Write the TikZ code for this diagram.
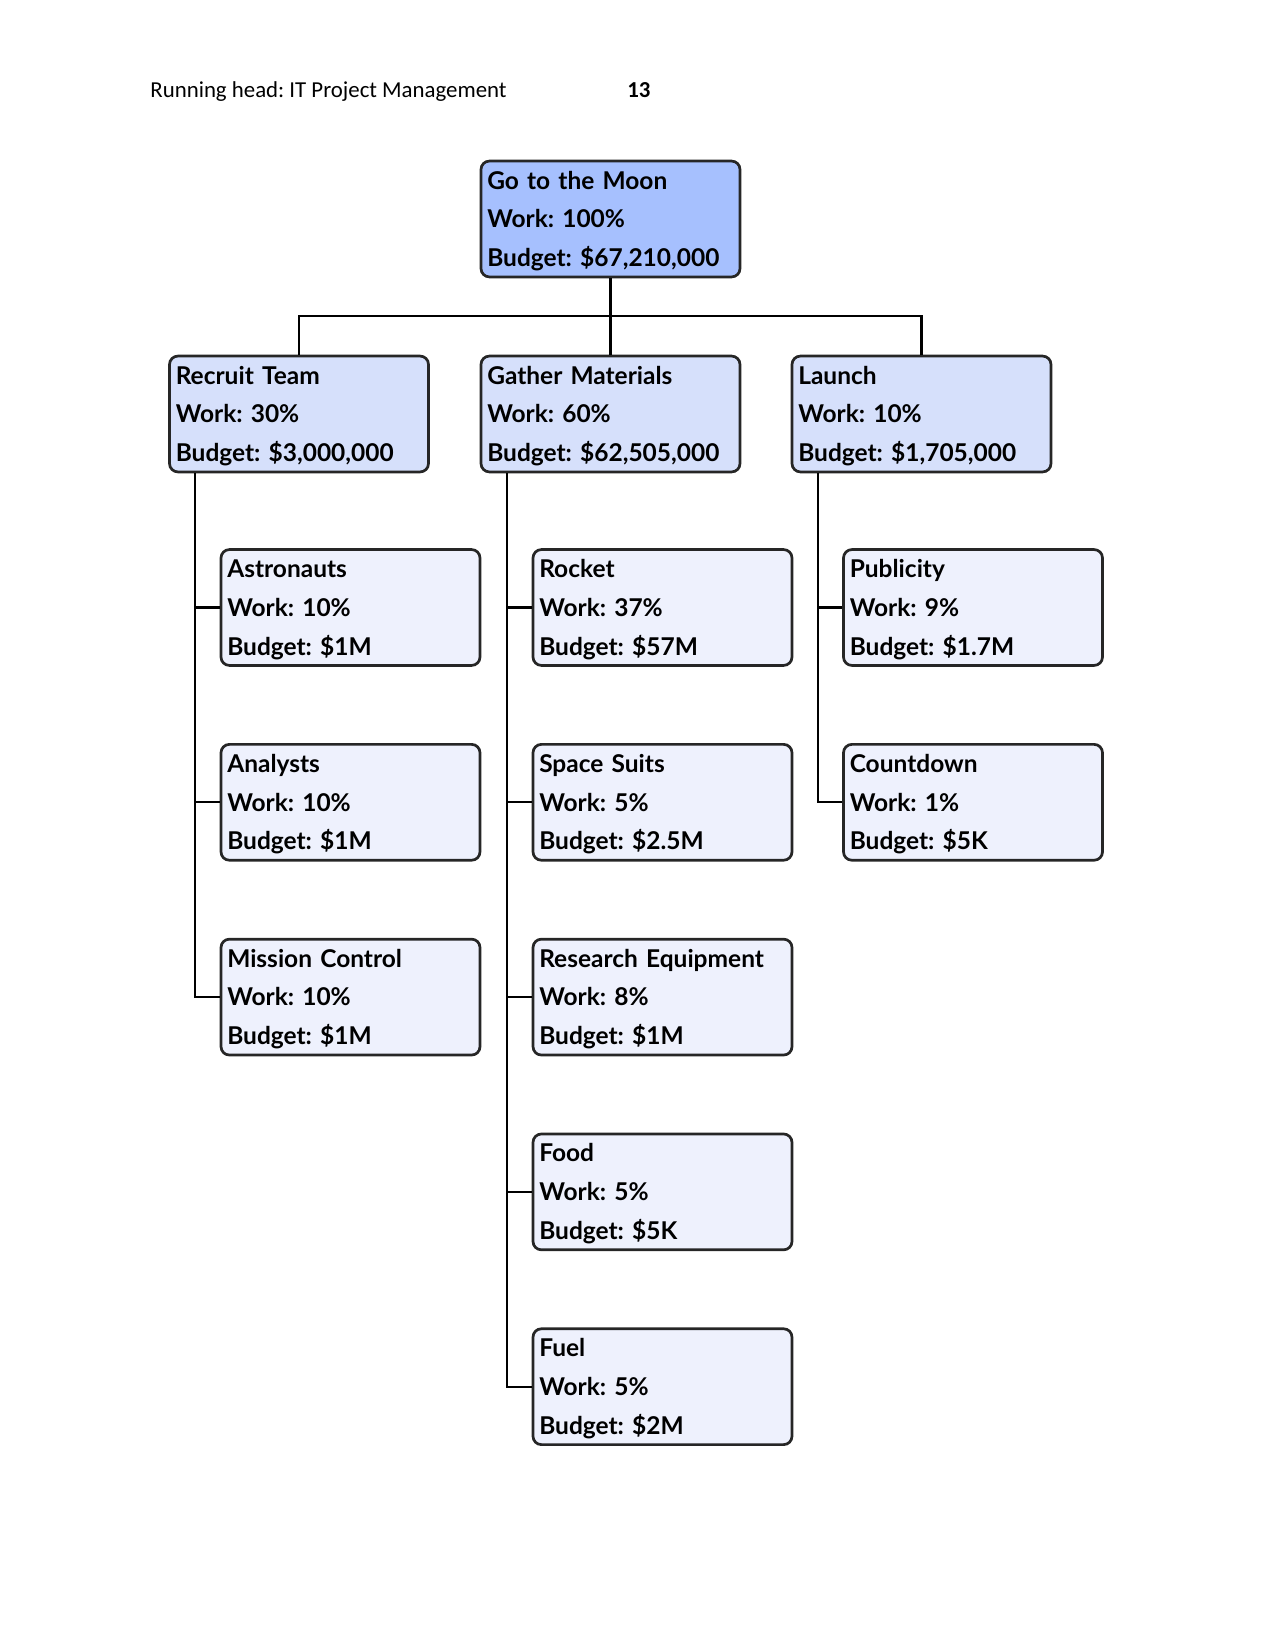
\documentclass[tikz,border=0pt]{standalone}
\usepackage{fontspec}
\setmainfont{Carlito}
\newfontfamily\boxfont{Lato}
\usepackage{xcolor}
\usetikzlibrary{positioning}
\frenchspacing
\definecolor{rootblue}{RGB}{166,192,254}
\definecolor{phaseblue}{RGB}{214,224,251}
\definecolor{taskblue}{RGB}{238,241,253}
\tikzset{
  wbs/.style={rectangle, draw=black!85, line width=1.3bp, rounded corners=4bp,
              minimum width=124.3bp, minimum height=55.6bp, text width=118.3bp,
              inner xsep=3bp, inner ysep=0pt, align=left,
              execute at begin node={\rule{0pt}{10.6bp}},
              font=\boxfont\bfseries\fontsize{11.8}{18.7}\selectfont},
  goal/.style={wbs, fill=rootblue},
  phase/.style={wbs, fill=phaseblue},
  task/.style={wbs, fill=taskblue},
  link/.style={line width=1bp, black},
  hdr/.style={inner sep=0pt, anchor=base west, font=\fontsize{11}{13}\selectfont}
}

\begin{document}
\begin{tikzpicture}[x=0.48bp, y=-0.48bp]
  \useasboundingbox (0,0) rectangle (1275,1651);
  \node[hdr] (head) at (150,97) {Running head: IT Project Management};
  \node[hdr, font=\fontsize{11}{13}\selectfont\bfseries] (page) at (627,97) {13};

  % top level
  \node[goal] (moon) at (610.5,219) {Go to the Moon\\Work: 100\%\\Budget: \$67,210,000};

  % phases
  \node[phase] (recruit) at (299,414) {Recruit Team\\Work: 30\%\\Budget: \$3,000,000};
  \node[phase] (gather) at (610.5,414) {Gather Materials\\Work: 60\%\\Budget: \$62,505,000};
  \node[phase] (launch) at (921.5,414) {Launch\\Work: 10\%\\Budget: \$1,705,000};
  \coordinate (bus) at (610.5,316);
  \draw[link] (moon.south) -- (gather.north);
  \draw[link] (recruit.north) |- (bus) -| (launch.north);

  % recruit team
  \node[task] (astro) at (350.5,607.5) {Astronauts\\Work: 10\%\\Budget: \$1M};
  \node[task] (analyst) at (350.5,802.3) {Analysts\\Work: 10\%\\Budget: \$1M};
  \node[task] (mission) at (350.5,997.1) {Mission Control\\Work: 10\%\\Budget: \$1M};
  \draw[link] ([xshift=13bp]recruit.south west) |- (astro.west);
  \draw[link] ([xshift=13bp]recruit.south west) |- (analyst.west);
  \draw[link] ([xshift=13bp]recruit.south west) |- (mission.west);

  % gather materials
  \node[task] (rocket) at (662.5,607.5) {Rocket\\Work: 37\%\\Budget: \$57M};
  \node[task] (suits) at (662.5,802.3) {Space Suits\\Work: 5\%\\Budget: \$2.5M};
  \node[task] (research) at (662.5,997.1) {Research Equipment\\Work: 8\%\\Budget: \$1M};
  \node[task] (food) at (662.5,1191.9) {Food\\Work: 5\%\\Budget: \$5K};
  \node[task] (fuel) at (662.5,1386.7) {Fuel\\Work: 5\%\\Budget: \$2M};
  \draw[link] ([xshift=13bp]gather.south west) |- (rocket.west);
  \draw[link] ([xshift=13bp]gather.south west) |- (suits.west);
  \draw[link] ([xshift=13bp]gather.south west) |- (research.west);
  \draw[link] ([xshift=13bp]gather.south west) |- (food.west);
  \draw[link] ([xshift=13bp]gather.south west) |- (fuel.west);

  % launch
  \node[task] (publicity) at (973,607.5) {Publicity\\Work: 9\%\\Budget: \$1.7M};
  \node[task] (countdown) at (973,802.3) {Countdown\\Work: 1\%\\Budget: \$5K};
  \draw[link] ([xshift=13bp]launch.south west) |- (publicity.west);
  \draw[link] ([xshift=13bp]launch.south west) |- (countdown.west);
\end{tikzpicture}
\end{document}
